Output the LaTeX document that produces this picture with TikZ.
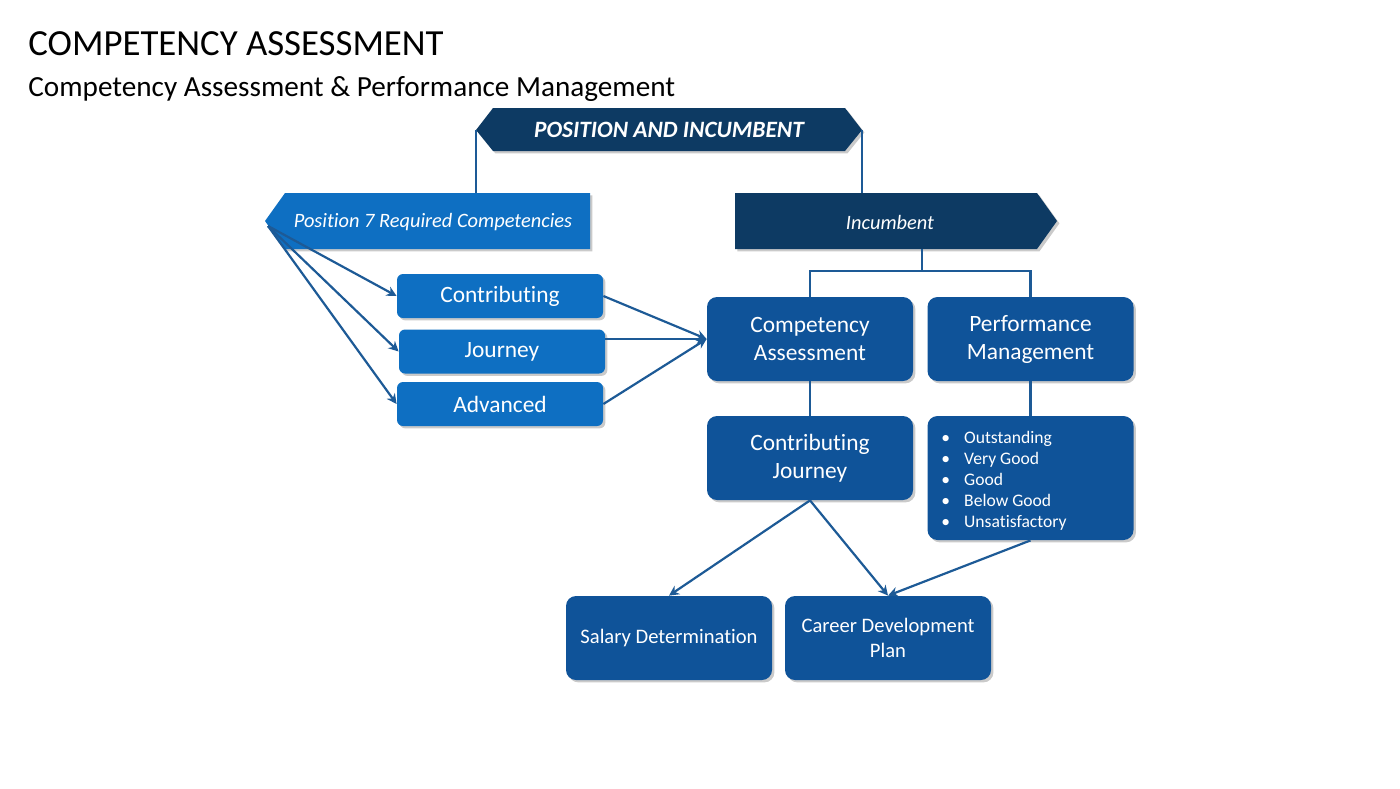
\documentclass[tikz,border=0pt]{standalone}
\usepackage{fontspec}
\setmainfont{Carlito}[Ligatures={NoCommon}]
\usetikzlibrary{shadows,arrows.meta}
\definecolor{navy}{HTML}{0D3A63}
\definecolor{darkbox}{HTML}{0F5399}
\definecolor{lightbox}{HTML}{0E6FC2}
\definecolor{linec}{HTML}{1D5A96}
\tikzset{
  shad/.style={drop shadow={shadow xshift=1.2pt,shadow yshift=-1.2pt,opacity=0.35,fill=black!60}},
  dbox/.style={shad,fill=darkbox,rounded corners=5pt,text=white,minimum width=103pt,minimum height=42pt,align=center,font=\fontsize{11.7}{14}\selectfont,inner sep=0pt},
  lbox/.style={shad,fill=lightbox,rounded corners=3pt,text=white,minimum width=103pt,minimum height=22pt,align=center,font=\fontsize{11.7}{14}\selectfont,inner sep=0pt},
  smalltext/.style={font=\fontsize{10.3}{12.5}\selectfont},
  conn/.style={draw=linec,line width=1.1pt},
  arr/.style={conn,-{Stealth[length=5pt,width=5pt]}},
  lab/.style={text=white,inner sep=0pt}
}
\begin{document}
\begin{tikzpicture}[x=0.5pt,y=-0.5pt]
\useasboundingbox (0,0) rectangle (1400,788);
% titles
\node[anchor=base west,inner sep=0pt,font=\fontsize{18.4}{21}\selectfont] (title) at (28,55) {COMPETENCY ASSESSMENT};
\node[anchor=base west,inner sep=0pt,font=\fontsize{14.6}{17}\selectfont] (sub) at (28,96) {Competency Assessment \& Performance Management};
% top banner
\fill[navy,shad] (476,130) -- (493,108) -- (845,108) -- (862,130) -- (845,151) -- (493,151) -- cycle;
\node[lab,font=\fontsize{11.7}{14}\selectfont\bfseries\itshape] (pi) at (669,130) {POSITION AND INCUMBENT};
\coordinate (piL) at (476,130);
\coordinate (piR) at (862,130);
% position shape
\fill[lightbox,shad] (265,221) -- (285,193) -- (590,193) -- (590,249) -- (285,249) -- cycle;
\node[lab,font=\fontsize{10.2}{12}\selectfont\itshape] (pos) at (433,222) {Position 7 Required Competencies};
\coordinate (posT) at (476,193);
\coordinate (posTip) at (268,226);
% incumbent shape
\fill[navy,shad] (735,193) -- (1037,193) -- (1057,221) -- (1037,249) -- (735,249) -- cycle;
\node[lab,font=\fontsize{10.2}{12}\selectfont\itshape] (inc) at (890,222) {Incumbent};
\coordinate (incT) at (862,193);
\coordinate (incB) at (922,249);
% light boxes
\node[lbox] (contrib) at (500,296) {Contributing};
\node[lbox] (journey) at (502,351.5) {Journey};
\node[lbox] (adv) at (500,404) {Advanced};
% dark boxes
\node[dbox] (ca) at (810,339) {Competency\\Assessment};
\node[dbox] (pm) at (1030.5,339) {Performance\\Management};
\node[dbox] (cj) at (810,458) {Contributing\\Journey};
\node[dbox,minimum height=62pt] (bul) at (1030.5,478) {};
\node[anchor=north west,lab,font=\fontsize{8.8}{10.5}\selectfont,align=left] (bultext) at (941,431)
 {\textbullet\hspace{7pt}Outstanding\\\textbullet\hspace{7pt}Very Good\\\textbullet\hspace{7pt}Good\\\textbullet\hspace{7pt}Below Good\\\textbullet\hspace{7pt}Unsatisfactory};
\node[dbox,smalltext] (sal) at (669,638) {Salary Determination};
\node[dbox,smalltext] (cdp) at (888,638) {Career Development\\Plan};
% connectors
\draw[conn] (piL) -- (posT);
\draw[conn] (piR) -- (incT);
\draw[conn] (incB) -- (922,271) coordinate (hj);
\draw[conn] (ca.north) |- (hj) -| (pm.north);
\draw[arr] (posTip) -- (contrib.west);
\draw[arr] (posTip) -- (journey.west);
\draw[arr] (posTip) -- (adv.west);
\draw[arr] (contrib.east) -- (ca.west);
\draw[arr] (journey.east |- ca.west) -- (ca.west);
\draw[arr] (adv.east) -- (ca.west);
\draw[conn] (ca.south) -- (cj.north);
\draw[conn] (pm.south) -- (bul.north);
\draw[arr] (cj.south) -- (sal.north);
\draw[arr] (cj.south) -- (cdp.north);
\draw[arr] (bul.south) -- (cdp.north);
\end{tikzpicture}
\end{document}
